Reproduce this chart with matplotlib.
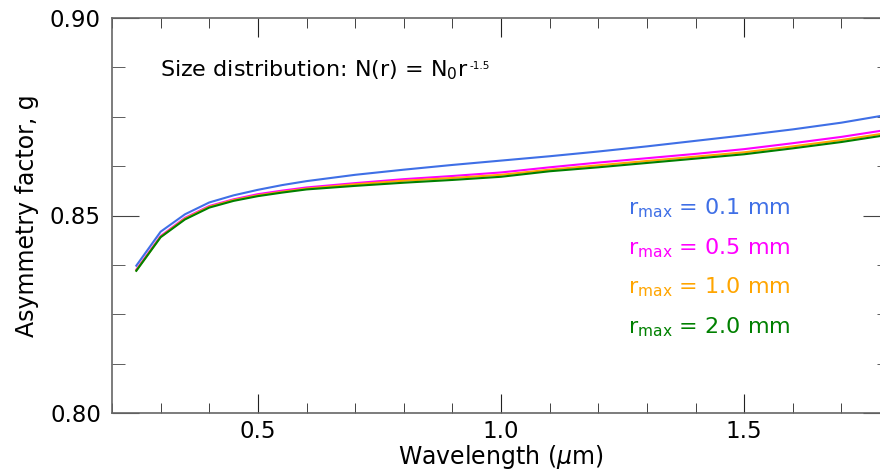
import matplotlib
matplotlib.use("Agg")
import matplotlib.pyplot as plt
from matplotlib.ticker import MultipleLocator

plt.rcParams['font.family'] = ['DejaVu Sans']
plt.rcParams['mathtext.fontset'] = 'dejavusans'

wavelength = [0.25, 0.30, 0.35, 0.40, 0.45, 0.50, 0.55, 0.60, 0.70, 0.80, 0.90,
              1.00, 1.10, 1.20, 1.30, 1.40, 1.50, 1.60, 1.70, 1.80]
g_r01 = [0.8373, 0.8459, 0.8503, 0.8533, 0.8551, 0.8565, 0.8577, 0.8587, 0.8603, 0.8616,
         0.8628, 0.8639, 0.8650, 0.8662, 0.8675, 0.8689, 0.8703, 0.8718, 0.8735, 0.8756]
g_r05 = [0.8363, 0.8448, 0.8494, 0.8524, 0.8541, 0.8554, 0.8563, 0.8571, 0.8582, 0.8592,
         0.8600, 0.8609, 0.8622, 0.8634, 0.8645, 0.8656, 0.8668, 0.8683, 0.8699, 0.8718]
g_r10 = [0.8361, 0.8446, 0.8492, 0.8522, 0.8539, 0.8551, 0.8560, 0.8568, 0.8579, 0.8588,
         0.8595, 0.8603, 0.8616, 0.8627, 0.8638, 0.8649, 0.8660, 0.8675, 0.8691, 0.8710]
g_r20 = [0.8360, 0.8445, 0.8490, 0.8520, 0.8537, 0.8549, 0.8558, 0.8566, 0.8575, 0.8583,
         0.8590, 0.8598, 0.8612, 0.8622, 0.8633, 0.8644, 0.8655, 0.8670, 0.8686, 0.8705]
series = [g_r01, g_r05, g_r10, g_r20]
labels = ["0.1", "0.5", "1.0", "2.0"]
colors = ["#3f6fe6", "#ff00ff", "#ffa500", "#008000"]

fig = plt.figure(figsize=(8.8, 4.72), dpi=100)
ax = fig.add_axes([112/880, 59/472, (890-112)/880, (413-18)/472])

for s, c in zip(series, colors):
    ax.plot(wavelength, s, color=c, lw=1.5)

ax.set_xlim(0.2, 1.8)
ax.set_ylim(0.80, 0.90)
ax.xaxis.set_major_locator(MultipleLocator(0.5))
ax.xaxis.set_minor_locator(MultipleLocator(0.1))
ax.yaxis.set_major_locator(MultipleLocator(0.05))
ax.yaxis.set_minor_locator(MultipleLocator(0.0125))
ax.xaxis.set_major_formatter(plt.FormatStrFormatter('%.1f'))
ax.yaxis.set_major_formatter(plt.FormatStrFormatter('%.2f'))

ax.tick_params(axis='x', which='both', direction='in', top=True, labelsize=16.5, pad=5, color='#222222')
ax.tick_params(axis='x', which='major', length=14)
ax.tick_params(axis='x', which='minor', length=7)
ax.tick_params(axis='y', which='both', direction='in', right=True, labelsize=16.5, pad=8, color='#444444')
ax.tick_params(axis='y', which='major', length=19.5)
ax.tick_params(axis='y', which='minor', length=9.5)
for sp in ax.spines.values():
    sp.set_color('#666666')
    sp.set_linewidth(1.2)

ax.set_xlabel("Wavelength ($\\mu$m)", fontsize=17, labelpad=0)
ax.set_ylabel("Asymmetry factor, g", fontsize=17, labelpad=8)

base = ax.text(160/880, 1 - 70/472, "Size distribution: N(r) = N$_0$r",
               transform=fig.transFigure, fontsize=16, va='center', ha='left')
fig.canvas.draw()
bb = base.get_window_extent(renderer=fig.canvas.get_renderer())
fig.text((bb.x1 + 1) / 880, (bb.y1 - 3) / 472, "-1.5", fontsize=7.5, va='top', ha='left')

for i, (lab, c) in enumerate(zip(labels, colors)):
    ax.text(628/880, 1 - (208 + 39.7*i)/472, "r$_{\\mathregular{max}}$ = " + lab + " mm",
            transform=fig.transFigure, fontsize=16, color=c, va='center', ha='left')

fig.savefig("out.png", dpi=100)
